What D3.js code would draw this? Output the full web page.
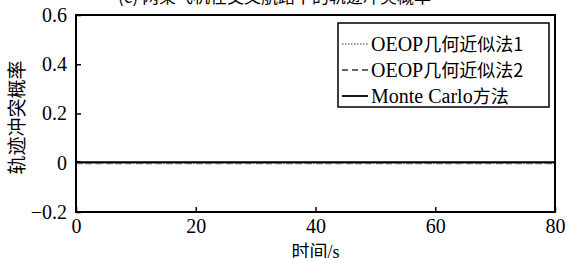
<!DOCTYPE html>
<html>
<head>
<meta charset="utf-8">
<script src="https://cdn.jsdelivr.net/npm/d3@7"></script>
<style>
  body { margin: 0; background: #fff; }
  svg { display: block; }
  text { font-family: "Liberation Serif", "Times New Roman", serif; fill: #000; }
  .cjk { font-family: "Noto Sans CJK SC", sans-serif; }
</style>
</head>
<body>
<div id="chart"></div>
<script>
// data
const times    = [0, 0.5, 1, 2, 80];
const mcProb   = [0.004, 0.003, 0.002, 0.002, 0.002];
const oeop1    = [-0.003, -0.003, -0.003, -0.003, -0.003];
const oeop2    = [-0.003, -0.003, -0.003, -0.003, -0.003];
const xTicks   = [0, 20, 40, 60, 80];
const yTicks   = [-0.2, 0, 0.2, 0.4, 0.6];
const legendNames = ["OEOP几何近似法1", "OEOP几何近似法2", "Monte Carlo方法"];

const W = 567, H = 258;
const m = {left: 76, right: 12, top: 15, bottom: 46};

const svg = d3.select("#chart").append("svg").attr("width", W).attr("height", H);

const x = d3.scaleLinear().domain([0, 80]).range([m.left, W - m.right]);
const y = d3.scaleLinear().domain([-0.2, 0.6]).range([H - m.bottom, m.top]);

// title (cut off at the top of the picture)
svg.append("text").attr("class", "cjk").attr("x", 118).attr("y", 3)
  .attr("font-size", 17).text("(c) 两架飞机在交叉航路下的轨迹冲突概率");

// axes: ticks inward, bottom and left only
const xAxis = svg.append("g").attr("transform", `translate(0,${H - m.bottom})`)
  .call(d3.axisBottom(x).tickValues(xTicks).tickSize(-5).tickPadding(6).tickFormat(d3.format("d")));
const yAxis = svg.append("g").attr("transform", `translate(${m.left},0)`)
  .call(d3.axisLeft(y).tickValues(yTicks).tickSize(-5).tickPadding(9)
    .tickFormat(d => d === 0 ? "0" : d3.format(".1f")(d).replace("-", "\u2212")));
[xAxis, yAxis].forEach(a => {
  a.attr("font-family", null).attr("font-size", null);
  a.select(".domain").remove();
  a.selectAll("line").attr("stroke", "#000").attr("stroke-width", 1.5);
  a.selectAll("text").style("font-family", "'Liberation Serif', serif").style("font-size", "20px");
});
xAxis.selectAll("text").attr("dy", "0.75em");

// series
const line = d3.line().x((d, i) => x(times[i])).y(d => y(d));
svg.append("path").datum(oeop2).attr("d", line).attr("fill", "none")
  .attr("stroke", "#777").attr("stroke-width", 1.5).attr("stroke-dasharray", "6,4");
svg.append("path").datum(oeop1).attr("d", line).attr("fill", "none")
  .attr("stroke", "#777").attr("stroke-width", 1.2).attr("stroke-dasharray", "1.5,1.5");
svg.append("path").datum(mcProb).attr("d", line).attr("fill", "none")
  .attr("stroke", "#000").attr("stroke-width", 2);

// frame
svg.append("rect").attr("x", m.left).attr("y", m.top)
  .attr("width", W - m.left - m.right).attr("height", H - m.top - m.bottom)
  .attr("fill", "none").attr("stroke", "#000").attr("stroke-width", 2);

// axis labels
svg.append("text").attr("class", "cjk").attr("text-anchor", "middle")
  .attr("transform", `translate(24,${(m.top + H - m.bottom) / 2 + 4}) rotate(-90)`)
  .attr("font-size", 19).text("轨迹冲突概率");
svg.append("text").attr("text-anchor", "middle").attr("x", (m.left + W - m.right) / 2).attr("y", 258)
  .attr("font-size", 18).html('<tspan class="cjk">时间</tspan><tspan>/s</tspan>');

// legend
const lg = svg.append("g").attr("transform", "translate(338,23)");
lg.append("rect").attr("width", 211).attr("height", 84)
  .attr("fill", "#fff").attr("stroke", "#000").attr("stroke-width", 1.5);
const styles = [
  {stroke: "#333", w: 1.2, dash: "1.5,1.5"},
  {stroke: "#333", w: 1.5, dash: "6,4"},
  {stroke: "#000", w: 1.8, dash: null}
];
legendNames.forEach((name, i) => {
  const cy = 21 + i * 26;
  lg.append("line").attr("x1", 4).attr("x2", 30).attr("y1", cy).attr("y2", cy)
    .attr("stroke", styles[i].stroke).attr("stroke-width", styles[i].w)
    .attr("stroke-dasharray", styles[i].dash);
  const t = lg.append("text").attr("x", 33).attr("y", cy + 7).attr("font-size", 20);
  const m2 = name.match(/^([A-Za-z ]+)(.*)$/);
  t.append("tspan").text(m2[1]);
  t.append("tspan").attr("class", "cjk").attr("font-size", 18).text(m2[2]);
});
</script>
</body>
</html>
